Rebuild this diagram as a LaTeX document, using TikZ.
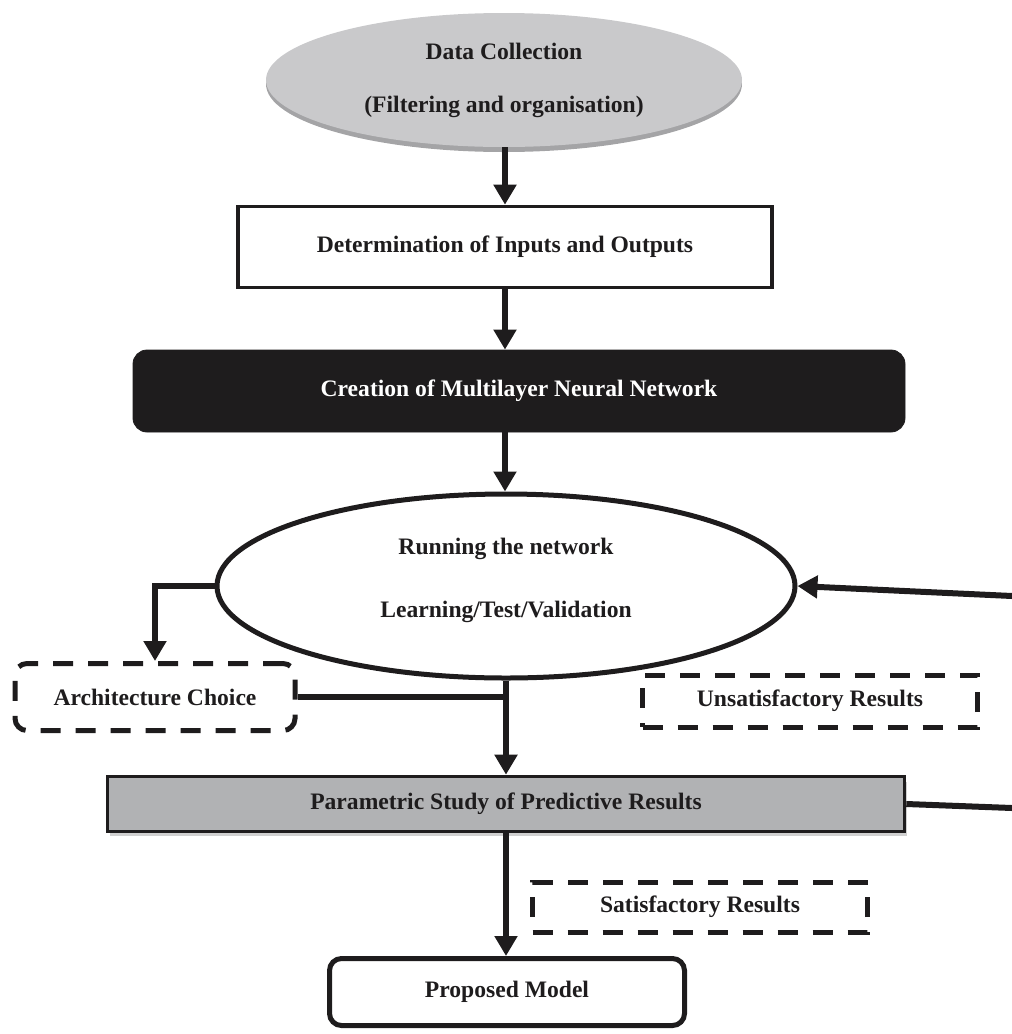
\documentclass[tikz,border=0pt]{standalone}
\usepackage{fontspec}
\setmainfont{Liberation Serif}
\usetikzlibrary{arrows.meta,shapes.geometric}

\definecolor{lightfill}{HTML}{C9C9CB}
\definecolor{lightshade}{HTML}{A4A4A6}
\definecolor{midfill}{HTML}{B1B2B4}
\definecolor{midshade}{HTML}{D0D0D0}
\definecolor{ink}{HTML}{1E1C1D}

% one drawing unit is half a point; node sizes below are given in points
\tikzset{
  txt/.style={font=\fontsize{11.8}{14}\selectfont\bfseries, text=ink, align=center},
  plainbox/.style={txt, draw=ink, rectangle, inner sep=0pt, line width=1.8pt},
  roundbox/.style={plainbox, rounded corners=6pt, line width=2.5pt},
  darkbox/.style={rectangle, rounded corners=7pt, fill=ink, draw=ink, inner sep=0pt,
    font=\fontsize{11.8}{14}\selectfont\bfseries, text=white},
  dashbox/.style={txt, draw=ink, rectangle, inner sep=0pt, line width=2.5pt,
    dash pattern=on 10pt off 7.5pt},
  arr/.style={draw=ink, line width=3pt, -{Triangle[length=10pt,width=11pt]}},
  link/.style={draw=ink, line width=3pt},
}

\begin{document}
\begin{tikzpicture}[x=0.5pt,y=-0.5pt]
  \useasboundingbox (0,0) rectangle (1012,1034);

  % data collection ellipse with a darker rim below
  \fill[lightshade] (504,84) ellipse [x radius=238, y radius=68];
  \node[ellipse, fill=lightfill, minimum width=238pt, minimum height=67pt, inner sep=0pt,
        txt, font=\fontsize{11.8}{26.5}\selectfont\bfseries] (dc) at (504,80)
        {Data Collection\\(Filtering and organisation)};

  \node[plainbox, minimum width=267pt, minimum height=40.5pt] (det) at (505,247)
        {Determination of Inputs and Outputs};

  \node[darkbox, minimum width=386pt, minimum height=41pt] (cre) at (519,391)
        {Creation of Multilayer Neural Network};

  % running the network
  \node[ellipse, draw=ink, fill=white, line width=2.5pt, minimum width=289pt,
        minimum height=92pt, inner sep=0pt] (run) at (506,586) {};
  \node[txt, font=\fontsize{11.8}{31.5}\selectfont\bfseries] (runtxt) at (506,580)
        {Running the network\\Learning/Test/Validation};

  \node[dashbox, rounded corners=6pt, minimum width=140pt, minimum height=33.5pt] (arch) at (155,697)
        {Architecture Choice};
  \node[dashbox, minimum width=167.5pt, minimum height=26pt] (unsat) at (810,701)
        {Unsatisfactory Results};

  % parametric study with a light shadow below
  \fill[midshade] (110,782) rectangle (907,836);
  \node[plainbox, fill=midfill, minimum width=398.5pt, minimum height=27.5pt] (par) at (506,804)
        {Parametric Study of Predictive Results};

  \node[dashbox, minimum width=167.5pt, minimum height=25pt] (sat) at (700,907)
        {Satisfactory Results};

  \node[roundbox, minimum width=177.5pt, minimum height=33.5pt] (prop) at (507,992)
        {Proposed Model};

  % loose ends at the right margin
  \coordinate (rin) at (1012,596);
  \coordinate (rout) at (1012,808);
  \coordinate (join) at (arch.east -| run.south);

  % connectors
  \draw[arr] (dc.south -| det.north) -- (det.north);
  \draw[arr] (det.south) -- (cre.north -| det.south);
  \draw[arr] (cre.south -| det.south) -- (run.north -| det.south);
  \draw[arr] (run.west) -| (arch.north);
  \draw[link] (arch.east) -- (join);
  \draw[arr] (run.south) -- (par.north -| run.south);
  \draw[arr] (rin) -- (run.east);
  \draw[link] (par.east) -- (rout);
  \draw[arr] (par.south -| run.south) -- (prop.north -| run.south);
\end{tikzpicture}
\end{document}
